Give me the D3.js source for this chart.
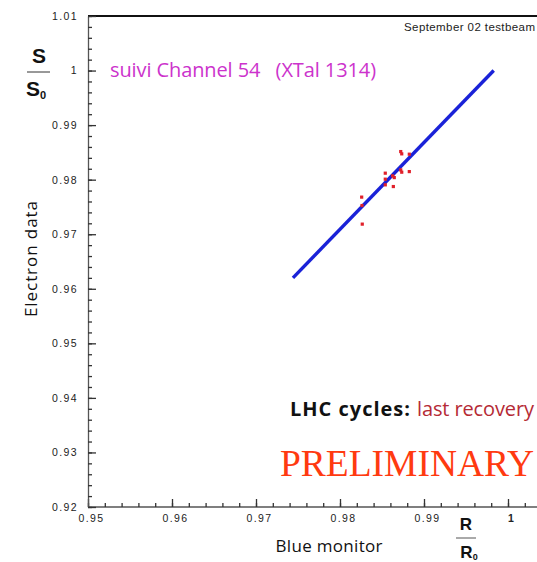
<!DOCTYPE html>
<html><head><meta charset="utf-8">
<script src="https://cdn.jsdelivr.net/npm/d3@7/dist/d3.min.js"></script>
<style>body{margin:0;background:#fff}svg{display:block}</style>
</head><body>
<script>
// ---- data ----
const xTicks = [0.95, 0.96, 0.97, 0.98, 0.99, 1.00];
const xTickLabels = ["0.95", "0.96", "0.97", "0.98", "0.99", "1"];
const yTicks = [0.92, 0.93, 0.94, 0.95, 0.96, 0.97, 0.98, 0.99, 1.00, 1.01];
const yTickLabels = ["0.92", "0.93", "0.94", "0.95", "0.96", "0.97", "0.98", "0.99", "1", "1.01"];
// blue monitor fit line (R/R0 -> S/S0)
const lineX = [0.9744, 0.9983];
const lineY = [0.9620, 1.0000];
// electron data points
const pointsX = [0.98723, 0.98735, 0.98825, 0.98539, 0.98723, 0.98735, 0.98825, 0.98627, 0.98646, 0.98539, 0.98539, 0.98635, 0.98258, 0.98262, 0.98265];
const pointsY = [0.98515, 0.98473, 0.98467, 0.98119, 0.98179, 0.98137, 0.98148, 0.98070, 0.98038, 0.98009, 0.97905, 0.97874, 0.97680, 0.97526, 0.97185];

const W = 537, H = 562;
const svg = d3.select("body").append("svg").attr("width", W).attr("height", H);

const x = d3.scaleLinear().domain([0.95, 1.0]).range([88, 508]);
const y = d3.scaleLinear().domain([0.92, 1.01]).range([507, 16]);
const xMax = x.invert(W);

// minor ticks
const xMinor = d3.range(0, 27).map(i => 0.95 + i * 0.002).filter(v => v <= xMax);
const yMinor = d3.range(0, 46).map(i => 0.92 + i * 0.002);

const font = "'Liberation Sans', Arial, sans-serif";
const hum = "'Open Sans', 'Liberation Sans', sans-serif";

// frame top
svg.append("line").attr("x1", 88).attr("x2", W).attr("y1", 16).attr("y2", 16)
  .attr("stroke", "#111").attr("stroke-width", 2);

// X axis
const gx = svg.append("g").attr("transform", `translate(0,${y(0.92)})`);
gx.call(d3.axisBottom(x).tickValues(xMinor).tickSize(-4).tickFormat("").tickSizeOuter(0));
gx.select(".domain").attr("d", `M88,0H${W}`);
const gx2 = svg.append("g").attr("transform", `translate(0,${y(0.92)})`);
gx2.call(d3.axisBottom(x).tickValues(xTicks).tickSize(-8).tickPadding(8)
  .tickFormat((d, i) => xTickLabels[i]));
gx2.select(".domain").remove();
[gx, gx2].forEach(g => {
  g.selectAll("line").attr("stroke", "#333").attr("stroke-width", 1.3);
  g.select(".domain").attr("stroke", "#555").attr("stroke-width", 1.3);
  g.selectAll("text").attr("font-family", font).attr("font-size", 10.5)
    .attr("letter-spacing", 1.4).attr("fill", "#222").attr("dx", 3);
});
gx2.selectAll(".tick").filter(d => d === 1).select("text").attr("font-weight", "bold");

// Y axis
const gy = svg.append("g").attr("transform", `translate(${x(0.95)},0)`);
gy.call(d3.axisLeft(y).tickValues(yMinor).tickSize(-4).tickFormat("").tickSizeOuter(0));
const gy2 = svg.append("g").attr("transform", `translate(${x(0.95)},0)`);
gy2.call(d3.axisLeft(y).tickValues(yTicks).tickSize(-8).tickPadding(10)
  .tickFormat((d, i) => yTickLabels[i]));
gy2.select(".domain").remove();
[gy, gy2].forEach(g => {
  g.selectAll("line").attr("stroke", "#333").attr("stroke-width", 1.3);
  g.select(".domain").attr("stroke", "#555").attr("stroke-width", 1.3);
  g.selectAll("text").attr("font-family", font).attr("font-size", 10.5)
    .attr("letter-spacing", 1.4).attr("fill", "#222");
});

// blue line
const lineData = lineX.map((v, i) => [v, lineY[i]]);
svg.append("path").datum(lineData)
  .attr("d", d3.line().x(d => x(d[0])).y(d => y(d[1])))
  .attr("stroke", "#1a22d8").attr("stroke-width", 3.4).attr("fill", "none");

// red points
svg.append("g").selectAll("rect").data(pointsX.map((v, i) => [v, pointsY[i]]))
  .join("rect")
  .attr("x", d => x(d[0]) - 1.6).attr("y", d => y(d[1]) - 1.6)
  .attr("width", 3.2).attr("height", 3.2).attr("fill", "#e0202a");

// texts
svg.append("text").attr("x", 535).attr("y", 31).attr("text-anchor", "end")
  .attr("font-family", font).attr("font-size", 11.5)
  .attr("textLength", 131).attr("lengthAdjust", "spacing")
  .attr("fill", "#222").text("September 02 testbeam");

svg.append("text").attr("x", 110).attr("y", 77)
  .attr("font-family", hum).attr("font-size", 20).attr("letter-spacing", "-0.1")
  .attr("fill", "#cc33cc").attr("xml:space", "preserve").text("suivi Channel 54   (XTal 1314)");

// S/S0
svg.append("text").attr("x", 39).attr("y", 63).attr("text-anchor", "middle")
  .attr("font-family", font).attr("font-weight", "bold").attr("font-size", 21).attr("fill", "#111").text("S");
svg.append("line").attr("x1", 27).attr("x2", 50).attr("y1", 72).attr("y2", 72).attr("stroke", "#333").attr("stroke-width", 1);
const s0 = svg.append("text").attr("x", 36).attr("y", 96).attr("text-anchor", "middle")
  .attr("font-family", font).attr("font-weight", "bold").attr("font-size", 21).attr("fill", "#111");
s0.append("tspan").text("S");
s0.append("tspan").attr("font-size", 11).attr("dy", 3).text("0");

// Electron data
svg.append("text").attr("transform", "translate(37,259) rotate(-90)").attr("text-anchor", "middle")
  .attr("font-family", hum).attr("font-size", 17)
  .attr("textLength", 116).attr("lengthAdjust", "spacing")
  .attr("fill", "#111").text("Electron data");

// Blue monitor
svg.append("text").attr("x", 329).attr("y", 552).attr("text-anchor", "middle")
  .attr("font-family", hum).attr("font-size", 17)
  .attr("textLength", 107).attr("lengthAdjust", "spacing")
  .attr("fill", "#111").text("Blue monitor");

// R/R0
svg.append("text").attr("x", 466).attr("y", 530).attr("text-anchor", "middle")
  .attr("font-family", font).attr("font-weight", "bold").attr("font-size", 17).attr("fill", "#111").text("R");
svg.append("line").attr("x1", 456).attr("x2", 476).attr("y1", 538).attr("y2", 538).attr("stroke", "#555").attr("stroke-width", 1);
const r0 = svg.append("text").attr("x", 469).attr("y", 558).attr("text-anchor", "middle")
  .attr("font-family", font).attr("font-weight", "bold").attr("font-size", 17).attr("fill", "#111");
r0.append("tspan").text("R");
r0.append("tspan").attr("font-size", 9).attr("dy", 2).text("0");

// LHC cycles
svg.append("text").attr("x", 290).attr("y", 416)
  .attr("font-family", hum).attr("font-size", 20).attr("font-weight", "bold")
  .attr("textLength", 120).attr("lengthAdjust", "spacing")
  .attr("fill", "#111").text("LHC cycles:");
svg.append("text").attr("x", 417).attr("y", 416)
  .attr("font-family", hum).attr("font-size", 20)
  .attr("textLength", 117).attr("lengthAdjust", "spacing")
  .attr("fill", "#b52a35").text("last recovery");

// PRELIMINARY
svg.append("text").attr("x", 280).attr("y", 476)
  .attr("font-family", "'Liberation Serif', 'Times New Roman', serif").attr("font-size", 38)
  .attr("textLength", 254).attr("lengthAdjust", "spacingAndGlyphs")
  .attr("fill", "#ff3a10").text("PRELIMINARY");
</script>
</body></html>
